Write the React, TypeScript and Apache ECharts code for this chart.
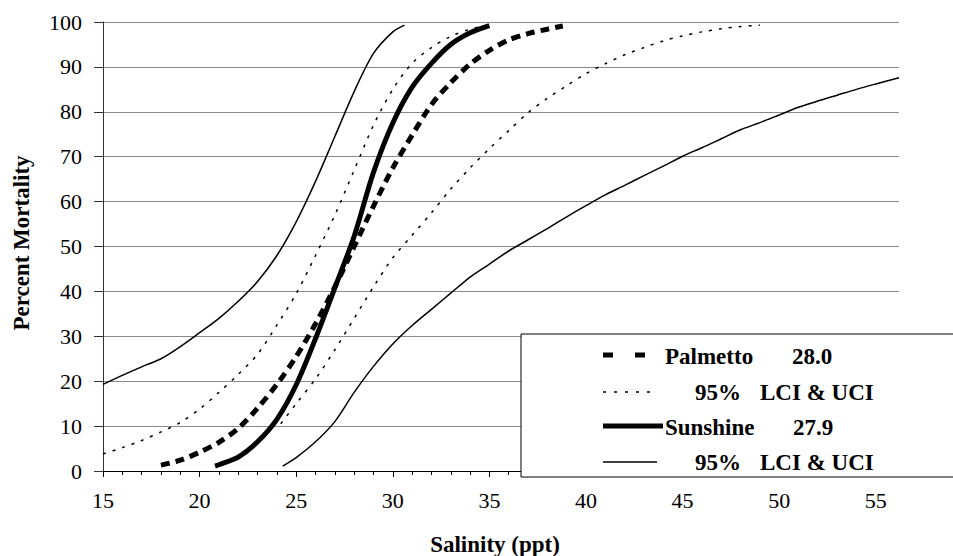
import React, { useEffect, useRef } from "react";
import * as echarts from "echarts";

// Salinity (ppt) vs percent mortality
const palmettoX = [18, 19, 20, 21, 22, 23, 24, 25, 26, 27, 28, 29, 30, 31, 32, 33, 34, 35, 36, 37, 38, 38.8];
const palmettoY = [1.3, 2.4, 4.2, 6.4, 9.5, 14, 19.3, 25.5, 32.8, 41, 50, 59, 67.5, 74.8, 81.6, 86.5, 90.6, 93.7, 96, 97.4, 98.4, 99.1];

const palmettoLciX = [15, 16, 17, 18, 19, 20, 21, 22, 23, 24, 25, 26, 27, 28, 29, 30, 31, 32, 33, 34, 34.6];
const palmettoLciY = [3.8, 5.2, 6.8, 8.7, 10.8, 13.8, 17.5, 21.5, 26, 32.5, 39.5, 48, 57, 67, 77, 85, 90.8, 94.3, 96.8, 98.4, 99];

const palmettoUciX = [24.2, 25, 26, 27, 28, 29, 30, 31, 32, 33, 34, 35, 36, 37, 38, 39, 40, 41, 42, 43, 44, 45, 46, 47, 48, 49];
const palmettoUciY = [10.5, 15, 20.5, 27, 34, 41, 47.5, 52.5, 57.5, 62.8, 67.5, 71.8, 75.8, 79.8, 83, 85.8, 88.5, 90.7, 92.7, 94.3, 95.8, 96.9, 97.8, 98.5, 99, 99.3];

const sunshineX = [20.8, 21, 22, 23, 24, 25, 26, 27, 28, 29, 30, 31, 32, 33, 34, 35];
const sunshineY = [1.1, 1.4, 3.1, 6.5, 11.5, 19.2, 29.5, 40.8, 52.3, 66.5, 77.5, 85.5, 90.8, 95, 97.6, 99.2];

const sunshineLciX = [15, 16, 17, 18, 19, 20, 21, 22, 23, 24, 25, 26, 27, 28, 29, 30, 30.6];
const sunshineLciY = [19.3, 21.3, 23.2, 25, 27.7, 30.8, 34, 37.8, 42.2, 48, 55.5, 64.5, 74.5, 84.5, 93, 97.8, 99.3];

const sunshineUciX = [24.3, 25, 26, 27, 28, 29, 30, 31, 32, 33, 34, 35, 36, 37, 38, 39, 40, 41, 42, 43, 44, 45, 46, 47, 48, 49, 50, 51, 52, 53, 54, 55, 56.2];
const sunshineUciY = [1.1, 3, 6.5, 11, 17.5, 23.3, 28.3, 32.4, 36, 39.6, 43.2, 46.1, 49, 51.5, 54, 56.6, 59.1, 61.5, 63.6, 65.8, 67.9, 70.1, 72, 74, 76, 77.6, 79.3, 81, 82.4, 83.7, 85, 86.2, 87.6];

const legendLabels = ["Palmetto", "28.0", "95%", "LCI & UCI", "Sunshine", "27.9"];
const xTitle = "Salinity (ppt)";
const yTitle = "Percent Mortality";

const FONT = "Times New Roman, Liberation Serif, serif";

function pairs(xs: number[], ys: number[]) {
  return xs.map((x, i) => [x, ys[i]]);
}

export default function App() {
  const ref = useRef<HTMLDivElement>(null);
  useEffect(() => {
    if (!ref.current) return;
    const chart = echarts.init(ref.current, null, { renderer: "svg" });
    const lineSeries = (name: string, data: number[][], width: number, type: any, z: number) => ({
      name,
      type: "line",
      data,
      smooth: 0.3,
      showSymbol: false,
      symbol: "none",
      z,
      lineStyle: { color: "#000", width, type },
    });
    const boldText = (text: string, x: number, y: number, align: string, rotation = 0) => ({
      type: "text",
      x,
      y,
      rotation,
      z: 102,
      style: {
        text,
        fill: "#000",
        fontFamily: FONT,
        fontSize: 23,
        fontWeight: "bold",
        align,
        verticalAlign: "middle",
      },
    });
    const legendLine = (x1: number, x2: number, y: number, width: number, dash?: number[]) => ({
      type: "line",
      z: 102,
      shape: { x1, y1: y, x2, y2: y },
      style: { stroke: "#000", lineWidth: width, lineDash: dash },
    });
    chart.setOption({
      animation: false,
      backgroundColor: "#fff",
      textStyle: { fontFamily: FONT },
      grid: { left: 103, right: 54, top: 22, bottom: 85, containLabel: false },
      xAxis: {
        type: "value",
        min: 15,
        max: 56.2,
        interval: 5,
        axisLine: { show: true, lineStyle: { color: "#000", width: 1 } },
        axisTick: { show: true, inside: false, length: 6, lineStyle: { color: "#000" } },
        minorTick: { show: true, splitNumber: 5, length: 4, lineStyle: { color: "#000" } },
        axisLabel: {
          color: "#000",
          fontFamily: FONT,
          fontSize: 22,
          margin: 18,
          showMaxLabel: false,
        },
        splitLine: { show: false },
      },
      yAxis: {
        type: "value",
        min: 0,
        max: 100,
        interval: 10,
        axisLine: { show: true, lineStyle: { color: "#333", width: 1 } },
        axisTick: { show: true, inside: false, length: 9, lineStyle: { color: "#333" } },
        axisLabel: { color: "#000", fontFamily: FONT, fontSize: 22, margin: 21 },
        splitLine: { show: true, lineStyle: { color: "#8a8a8a", width: 1 } },
      },
      series: [
        lineSeries("Sunshine 95% LCI", pairs(sunshineLciX, sunshineLciY), 1.5, "solid", 2),
        lineSeries("Sunshine 95% UCI", pairs(sunshineUciX, sunshineUciY), 1.5, "solid", 2),
        lineSeries("Palmetto 95% LCI", pairs(palmettoLciX, palmettoLciY), 1.5, [3, 7], 2),
        lineSeries("Palmetto 95% UCI", pairs(palmettoUciX, palmettoUciY), 1.5, [3, 7], 2),
        lineSeries("Sunshine", pairs(sunshineX, sunshineY), 5, "solid", 3),
        lineSeries("Palmetto", pairs(palmettoX, palmettoY), 5, [9, 6], 4),
      ],
      graphic: [
        {
          type: "rect",
          z: 100,
          shape: { x: 521, y: 334, width: 450, height: 143 },
          style: { fill: "#fff", stroke: "#000", lineWidth: 1 },
        },
        legendLine(603, 613, 355, 5),
        legendLine(635, 645, 355, 5),
        boldText(legendLabels[0], 665, 356, "left"),
        boldText(legendLabels[1], 792, 356, "left"),
        legendLine(603, 658, 392, 1.5, [3, 8]),
        boldText(legendLabels[2], 695, 392, "left"),
        boldText(legendLabels[3], 760, 392, "left"),
        legendLine(603, 663, 426, 5),
        boldText(legendLabels[4], 665, 427, "left"),
        boldText(legendLabels[5], 793, 427, "left"),
        legendLine(603, 657, 462, 1.5),
        boldText(legendLabels[2], 695, 462, "left"),
        boldText(legendLabels[3], 760, 462, "left"),
        boldText(xTitle, 495, 544, "center"),
        boldText(yTitle, 21, 243, "center", Math.PI / 2),
      ],
    });
    return () => chart.dispose();
  }, []);
  return (
    <div
      ref={ref}
      style={{ position: "fixed", left: 0, top: 0, width: 953, height: 556, background: "#fff" }}
    />
  );
}
